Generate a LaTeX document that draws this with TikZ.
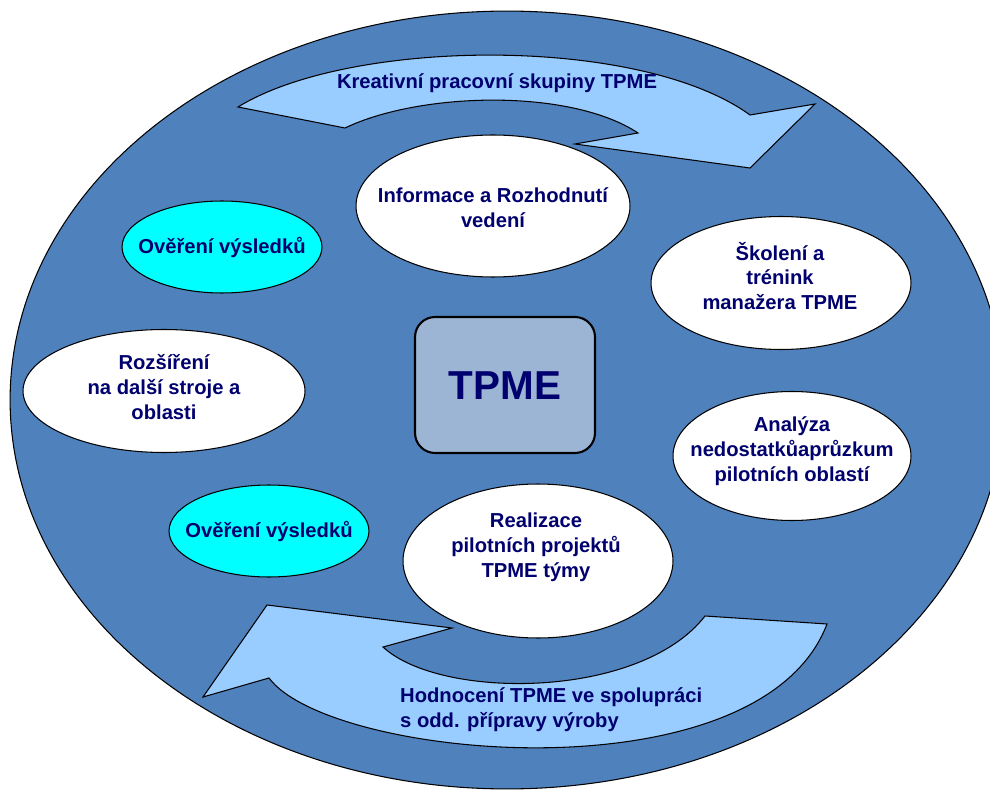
\documentclass[tikz,border=0pt]{standalone}
\usepackage{fontspec}
\setmainfont{Liberation Sans}
\usepackage{tikz}
\usetikzlibrary{shapes.geometric}
\definecolor{fieldblue}{RGB}{79,129,189}
\definecolor{bandblue}{RGB}{153,204,255}
\definecolor{checkcyan}{RGB}{0,255,255}
\definecolor{coreblue}{RGB}{157,181,212}
\definecolor{inktext}{RGB}{0,0,110}
\tikzset{
  field/.style={draw=black, line width=0.6pt, fill=fieldblue},
  bandarrow/.style={draw=black, line width=0.6pt, fill=bandblue, line join=miter},
  oval/.style={ellipse, draw=black, line width=0.6pt, fill=white, inner sep=0pt},
  ovalcyan/.style={oval, fill=checkcyan, minimum width=4cm, minimum height=1.84cm},
  corebox/.style={draw=black, line width=1.2pt, fill=coreblue, rounded corners=0.4cm,
    minimum width=3.6cm, minimum height=2.72cm},
  lbl/.style={text=inktext, font=\fontsize{11.5}{14.2}\selectfont\bfseries, align=center},
}

\begin{document}
\begin{tikzpicture}[x=0.02cm, y=-0.02cm]
    \clip (0,0) rectangle (990,790);
    % blue field behind everything
    \draw[field] (507,400) ellipse [x radius=9.94cm, y radius=7.78cm];
    % upper curved arrow
    \draw[bandarrow] (238,107) .. controls (350,38) and (640,35) .. (750,115)
      -- (815,104) -- (750,168) -- (575,144) -- (638,133)
      .. controls (570,88) and (420,92) .. (345,128) -- cycle;
    \node[lbl] (creative) at (497,83) {Kreativní pracovní skupiny TPME};
    % lower curved arrow
    \draw[bandarrow] (827,624) .. controls (760,800) and (330,760) .. (269,678)
      -- (203,697) -- (267,605) -- (452,628) -- (383,647)
      .. controls (440,700) and (640,700) .. (705,616) -- cycle;
    \node[lbl, align=left, anchor=west] (review) at (394,710)
      {Hodnocení TPME ve spolupráci\\s odd. přípravy výroby};
    % the ovals round the centre
    \node[oval, minimum width=5.48cm, minimum height=2.84cm] (info) at (493,206) {};
    \node[lbl] (infotxt) at (493,208) {Informace a Rozhodnutí\\vedení};
    \node[oval, minimum width=5.2cm, minimum height=2.66cm] (train) at (781,283) {};
    \node[lbl] (traintxt) at (780,276) {Školení a\\trénink\\manažera TPME};
    \node[oval, minimum width=4.76cm, minimum height=2.58cm] (gaps) at (792,456) {};
    \node[lbl] (gapstxt) at (792,451) {Analýza\\nedostatkůaprůzkum\\pilotních oblastí};
    \node[oval, minimum width=5.4cm, minimum height=3.08cm] (pilot) at (538,561) {};
    \node[lbl] (pilottxt) at (536,547) {Realizace\\pilotních projektů\\TPME týmy};
    \node[oval, minimum width=5.64cm, minimum height=2.46cm] (spread) at (164,391) {};
    \node[lbl] (spreadtxt) at (164,387) {Rozšíření\\na další stroje a\\oblasti};
    \node[ovalcyan] (checka) at (222,247) {};
    \node[lbl] (checkatxt) at (222,247) {Ověření výsledků};
    \node[ovalcyan] (checkb) at (269,531) {};
    \node[lbl] (checkbtxt) at (269,531) {Ověření výsledků};
    % centre box
    \node[corebox] (core) at (505,385) {};
    \node[text=inktext, font=\fontsize{23}{28}\selectfont\bfseries] (coretxt) at (505,386) {TPME};
\end{tikzpicture}
\end{document}
